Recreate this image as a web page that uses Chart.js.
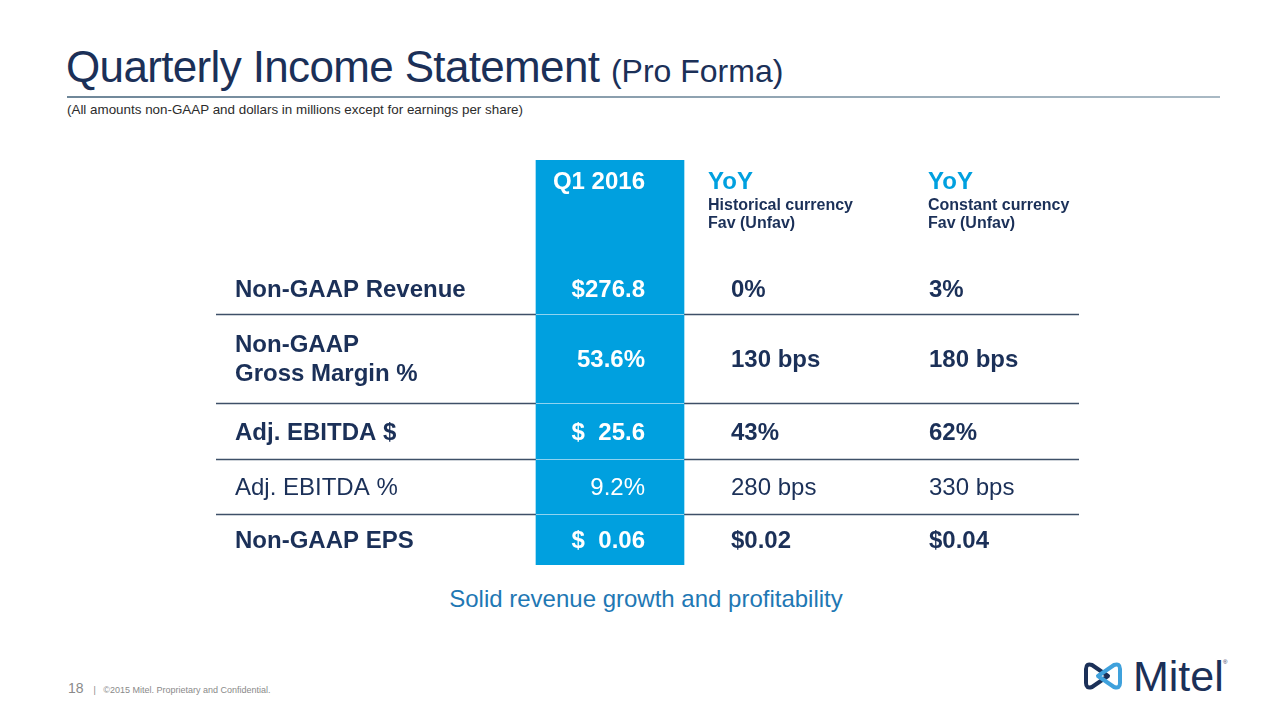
<!DOCTYPE html>
<html>
<head>
<meta charset="utf-8">
<script src="https://cdn.jsdelivr.net/npm/chart.js@4.4.1/dist/chart.umd.min.js"></script>
<style>
  html, body { margin: 0; padding: 0; background: #fff; }
  body { width: 1280px; height: 720px; position: relative; overflow: hidden; font-family: "Liberation Sans", Arial, sans-serif; }
  .title { position: absolute; left: 66px; top: 42px; font-size: 44px; letter-spacing: -0.65px; color: #1b3058; white-space: nowrap; }
  .title small { font-size: 32px; letter-spacing: 0; }
  .rule { position: absolute; left: 67px; top: 96px; width: 1153px; height: 2px; background: linear-gradient(to right, #6f8799, #a9b9c4); }
  .note { position: absolute; left: 67px; top: 102px; font-size: 13.4px; color: #2b2b2b; }
  .tag { position: absolute; left: 0; width: 1292px; top: 585px; text-align: center; font-size: 24px; color: #1f78b4; }
  .foot { position: absolute; left: 68px; top: 680px; font-size: 14px; color: #8a8a8a; }
  .foot span { font-size: 9px; margin-left: 6px; }
  #table { position: absolute; left: 216px; top: 160px; }
  .logo { position: absolute; left: 1082px; top: 652px; }
</style>
</head>
<body>
<div class="title">Quarterly Income Statement <small>(Pro Forma)</small></div>
<div class="rule"></div>
<div class="note">(All amounts non-GAAP and dollars in millions except for earnings per share)</div>
<canvas id="table" width="863" height="405"></canvas>
<div class="tag">Solid revenue growth and profitability</div>
<div class="foot">18 <span>|&nbsp;&nbsp;&nbsp;©2015 Mitel. Proprietary and Confidential.</span></div>
<svg class="logo" width="160" height="48" viewBox="0 0 160 48">
  <path d="M4 17 Q4 11 10 13 L26 24 L10 35 Q4 37 4 31 Z" fill="none" stroke="#1b3058" stroke-width="4" stroke-linejoin="round"/>
  <path d="M38 17 Q38 11 32 13 L16 24 L32 35 Q38 37 38 31 Z" fill="none" stroke="#3fa1dc" stroke-width="4" stroke-linejoin="round"/>
  <text x="51" y="39" font-family="Liberation Sans, Arial" font-size="43" fill="#1b3058">Mitel</text>
  <text x="141" y="12" font-family="Liberation Sans, Arial" font-size="6" fill="#1b3058">®</text>
</svg>
<script>
// table content
const rowLabels = ['Non-GAAP Revenue', ['Non-GAAP', 'Gross Margin %'], 'Adj. EBITDA $', 'Adj. EBITDA %', 'Non-GAAP EPS'];
const rowBold = [true, true, true, false, true];
const q1Values = ['$276.8', '53.6%', '$  25.6', '9.2%', '$  0.06'];
const yoyHistorical = ['0%', '130 bps', '43%', '280 bps', '$0.02'];
const yoyConstant = ['3%', '180 bps', '62%', '330 bps', '$0.04'];
const periodHead = 'Q1 2016';
const yoyHeads = [['YoY', 'Historical currency', 'Fav (Unfav)'], ['YoY', 'Constant currency', 'Fav (Unfav)']];

// layout (scale units = px)
const headerHeight = 102;
const rowHeights = [52, 89, 56, 55, 51];
const colEdges = [0, 320, 468, 663, 863];
const textX = [19, 429, 515, 713];      // label left, q1 right, hist left, const left
const headX = [492, 712];               // YoY heading left edges

const rowEdges = [headerHeight];
rowHeights.forEach(h => rowEdges.push(rowEdges[rowEdges.length - 1] + h));
const totalHeight = rowEdges[rowEdges.length - 1];

const navy = '#1b3058';
const blue = '#00a0df';

const tablePlugin = {
    id: 'tableText',
    beforeDatasetsDraw(chart) {
        const ctx = chart.ctx, x = chart.scales.x, y = chart.scales.y;
        // row separators
        ctx.save();
        ctx.strokeStyle = '#3e5068';
        ctx.lineWidth = 1.5;
        for (let i = 1; i < rowEdges.length - 1; i++) {
            const py = Math.round(y.getPixelForValue(rowEdges[i])) + 0.5;
            ctx.beginPath();
            ctx.moveTo(x.getPixelForValue(colEdges[0]), py);
            ctx.lineTo(x.getPixelForValue(colEdges[4]), py);
            ctx.stroke();
        }
        ctx.restore();
    },
    afterDatasetsDraw(chart) {
        const ctx = chart.ctx, x = chart.scales.x, y = chart.scales.y;
        ctx.save();
        // light line across the blue column
        ctx.strokeStyle = '#8fd3f0';
        ctx.lineWidth = 1;
        for (let i = 1; i < rowEdges.length - 1; i++) {
            const py = Math.round(y.getPixelForValue(rowEdges[i])) + 0.5;
            ctx.beginPath();
            ctx.moveTo(x.getPixelForValue(colEdges[1]), py);
            ctx.lineTo(x.getPixelForValue(colEdges[2]), py);
            ctx.stroke();
        }
        ctx.textBaseline = 'middle';
        const font = (size, bold) => (bold ? 'bold ' : '') + size + 'px "Liberation Sans", Arial, sans-serif';

        // header
        ctx.fillStyle = '#ffffff';
        ctx.font = font(24, true);
        ctx.textAlign = 'right';
        ctx.fillText(periodHead, x.getPixelForValue(textX[1]), y.getPixelForValue(22));
        ctx.textAlign = 'left';
        yoyHeads.forEach((lines, j) => {
            const px = x.getPixelForValue(headX[j]);
            ctx.fillStyle = blue;
            ctx.font = font(24, true);
            ctx.fillText(lines[0], px, y.getPixelForValue(22));
            ctx.fillStyle = navy;
            ctx.font = font(16, true);
            ctx.fillText(lines[1], px, y.getPixelForValue(46));
            ctx.fillText(lines[2], px, y.getPixelForValue(64));
        });

        // rows
        rowLabels.forEach((label, i) => {
            const mid = y.getPixelForValue((rowEdges[i] + rowEdges[i + 1]) / 2) + 2;
            ctx.font = font(24, rowBold[i]);
            ctx.fillStyle = navy;
            ctx.textAlign = 'left';
            if (Array.isArray(label)) {
                ctx.fillText(label[0], x.getPixelForValue(textX[0]), mid - 15);
                ctx.fillText(label[1], x.getPixelForValue(textX[0]), mid + 14);
            } else {
                ctx.fillText(label, x.getPixelForValue(textX[0]), mid);
            }
            ctx.fillText(yoyHistorical[i], x.getPixelForValue(textX[2]), mid);
            ctx.fillText(yoyConstant[i], x.getPixelForValue(textX[3]), mid);
            ctx.fillStyle = '#ffffff';
            ctx.textAlign = 'right';
            ctx.fillText(q1Values[i], x.getPixelForValue(textX[1]), mid);
        });
        ctx.restore();
    }
};

new Chart(document.getElementById('table'), {
    type: 'bar',
    data: {
        datasets: [{
            data: [{ x: (colEdges[1] + colEdges[2]) / 2, y: [0, totalHeight] }],
            backgroundColor: blue,
            borderWidth: 0,
            barThickness: colEdges[2] - colEdges[1],
            grouped: false
        }]
    },
    options: {
        responsive: false,
        animation: false,
        layout: { padding: 0 },
        plugins: { legend: { display: false }, tooltip: { enabled: false } },
        scales: {
            x: { type: 'linear', offset: false, min: colEdges[0], max: colEdges[4], display: false },
            y: { type: 'linear', min: 0, max: totalHeight, reverse: true, display: false }
        }
    },
    plugins: [tablePlugin]
});
</script>
</body>
</html>
